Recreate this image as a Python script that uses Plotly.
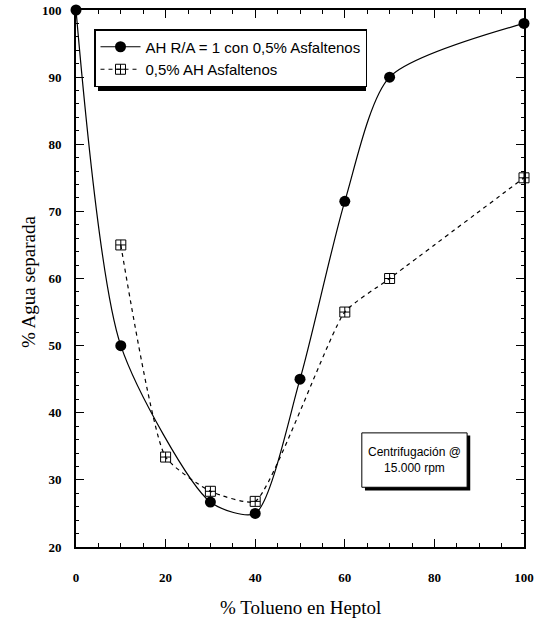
import plotly.graph_objects as go

# Data
x_ra = [0, 10, 30, 40, 50, 60, 70, 100]
y_ra = [100, 50, 26.7, 25, 45, 71.5, 90, 98]
x_asf = [10, 20, 30, 40, 60, 70, 100]
y_asf = [65, 33.4, 28.3, 26.8, 55, 60, 75]
name_ra = "AH R/A = 1 con 0,5% Asfaltenos"
name_asf = "0,5% AH Asfaltenos"
x_ticks = [0, 20, 40, 60, 80, 100]
y_ticks = [20, 30, 40, 50, 60, 70, 80, 90, 100]

W, H = 540, 630
L, R, T, B = 76, 16, 10, 83
PW, PH = W - L - R, H - T - B


def px(x):
    # page pixel -> paper coordinate
    return (x - L) / PW


def py(y):
    return 1 - (y - T) / PH


fig = go.Figure()
fig.add_trace(go.Scatter(
    x=x_ra, y=y_ra, name=name_ra, mode="lines+markers", cliponaxis=False,
    line=dict(color="black", width=1.2, shape="spline", smoothing=0.7),
    marker=dict(symbol="circle", size=11, color="black"),
))
fig.add_trace(go.Scatter(
    x=x_asf, y=y_asf, name=name_asf, mode="lines+markers", cliponaxis=False,
    line=dict(color="black", width=1.2, dash="4px,4px", shape="spline", smoothing=0.5),
    marker=dict(symbol="square-cross-open", size=10, color="black", line=dict(width=1)),
))

# legend drop shadow
fig.add_shape(type="rect", xref="paper", yref="paper",
              x0=px(98), x1=px(366), y0=py(91), y1=py(33),
              fillcolor="black", line=dict(width=0), layer="above")

# annotation box with drop shadow
fig.add_shape(type="rect", xref="x", yref="y", x0=64.5, x1=88.0, y0=28.4, y1=36.6,
              fillcolor="black", line=dict(width=0), layer="above")
fig.add_shape(type="rect", xref="x", yref="y", x0=63.8, x1=87.3, y0=28.9, y1=37.0,
              fillcolor="white", line=dict(color="black", width=1), layer="above")
fig.add_annotation(x=75.5, y=33.0, xref="x", yref="y", showarrow=False,
                   text="Centrifugación @<br>15.000 rpm",
                   font=dict(family="Liberation Sans", size=12, color="black"))

# axis titles
fig.add_annotation(x=px(300), y=py(607), xref="paper", yref="paper", showarrow=False,
                   text="% Tolueno en Heptol", xanchor="center", yanchor="middle",
                   font=dict(family="Liberation Serif", size=19, color="black"))
fig.add_annotation(x=px(28), y=py(282), xref="paper", yref="paper", showarrow=False,
                   text="% Agua separada", textangle=-90, xanchor="center", yanchor="middle",
                   font=dict(family="Liberation Serif", size=19, color="black"))

axis_common = dict(
    showgrid=False, zeroline=False, showline=True, linecolor="black", linewidth=2,
    mirror="allticks", ticks="inside", tickcolor="black", tickwidth=1.2, ticklen=8,
    automargin=False, ticklabeloverflow="allow",
    tickfont=dict(family="Liberation Serif", size=13, color="black", weight="bold"),
)

fig.update_layout(
    width=W, height=H,
    margin=dict(l=L, r=R, t=T, b=B),
    paper_bgcolor="white", plot_bgcolor="white",
    showlegend=True,
    legend=dict(x=px(94), y=py(29), xanchor="left", yanchor="top",
                bgcolor="white", bordercolor="black", borderwidth=1.5,
                font=dict(family="Liberation Sans", size=15, color="black"),
                tracegroupgap=0, itemwidth=40),
    xaxis=dict(range=[0, 100], tickvals=x_ticks, ticktext=[str(v) for v in x_ticks],
               minor=dict(dtick=5, ticklen=4, ticks="inside", tickcolor="black"),
               ticklabelstandoff=17,
               **axis_common),
    yaxis=dict(range=[20, 100], tickvals=y_ticks, ticktext=[str(v) for v in y_ticks],
               minor=dict(dtick=2, ticklen=3, ticks="inside", tickcolor="black"),
               ticklabelstandoff=10,
               **axis_common),
)

fig.write_html("out.html", config={"displayModeBar": False},
               post_script="document.body.style.margin='0';")
